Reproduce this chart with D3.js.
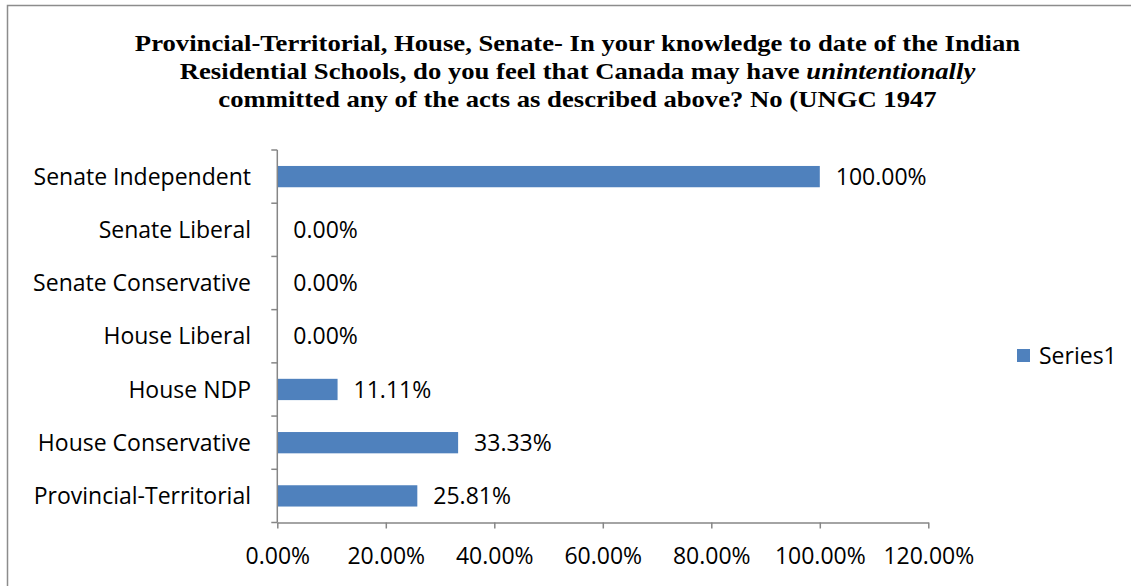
<!DOCTYPE html>
<html>
<head>
<meta charset="utf-8">
<script src="https://cdn.jsdelivr.net/npm/d3@7"></script>
<style>
  html, body { margin: 0; padding: 0; background: #fff; }
  svg { display: block; }
</style>
</head>
<body>
<script>
// chart data, top row first
const categories = [
  'Senate Independent',
  'Senate Liberal',
  'Senate Conservative',
  'House Liberal',
  'House NDP',
  'House Conservative',
  'Provincial-Territorial'
];
const values = [1.0, 0, 0, 0, 0.1111, 0.3333, 0.2581];
const xTicks = [0, 0.2, 0.4, 0.6, 0.8, 1.0, 1.2];
const seriesName = 'Series1';
const titleLines = [
  [{ t: 'Provincial-Territorial, House, Senate- In your knowledge to date of the Indian' }],
  [{ t: 'Residential Schools, do you feel that Canada may have ' }, { t: 'unintentionally', i: true }],
  [{ t: 'committed any of the acts as described above? No (UNGC 1947' }]
];

const width = 1131, height = 586;
const barColor = '#4F81BD';
const axisColor = '#868686';
const labelFont = '"Open Sans", Lato, sans-serif';
const labelSize = 23;

const svg = d3.select('body')
  .append('svg')
  .attr('width', width)
  .attr('height', height);

svg.append('rect')
  .attr('width', width)
  .attr('height', height)
  .attr('fill', '#fff');

// chart frame (only top and left edges show)
svg.append('path')
  .attr('d', `M7.5,${height} V5.5 H${width}`)
  .attr('fill', 'none')
  .attr('stroke', '#8c8c8c')
  .attr('stroke-width', 1.5);

// Title - the source glyphs are a little wider than Times, stretch them
const title = svg.append('text')
  .attr('transform', 'translate(577.5,0) scale(1.16,1)')
  .attr('text-anchor', 'middle')
  .attr('font-family', '"Liberation Serif", "Times New Roman", serif')
  .attr('font-weight', 'bold')
  .attr('font-size', 23)
  .attr('fill', '#000');

titleLines.forEach((line, i) => {
  const row = title.append('tspan')
    .attr('x', 0)
    .attr('y', 51 + i * 28);
  line.forEach(part => {
    row.append('tspan')
      .attr('font-style', part.i ? 'italic' : null)
      .text(part.t);
  });
});

// Scales
const x = d3.scaleLinear()
  .domain([0, 1.2])
  .range([277.3, 928.3]);

const y = d3.scaleBand()
  .domain(categories)
  .range([150, 522.5])
  .paddingInner(0.6)
  .paddingOuter(0.3);

const g = svg.append('g');

// Bars
g.selectAll('rect.bar')
  .data(categories)
  .join('rect')
  .attr('class', 'bar')
  .attr('x', x(0))
  .attr('y', d => y(d))
  .attr('width', (d, i) => x(values[i]) - x(0))
  .attr('height', y.bandwidth())
  .attr('fill', barColor);

// Value labels
g.selectAll('text.val')
  .data(categories)
  .join('text')
  .attr('class', 'val')
  .attr('x', (d, i) => x(values[i]) + 16)
  .attr('y', d => y(d) + y.bandwidth() / 2)
  .attr('dy', '0.35em')
  .attr('font-family', labelFont)
  .attr('font-size', labelSize)
  .attr('fill', '#000')
  .text((d, i) => d3.format('.2%')(values[i]));

// X axis
const xAxis = d3.axisBottom(x)
  .tickValues(xTicks)
  .tickFormat(d3.format('.2%'))
  .tickSize(6)
  .tickSizeOuter(0);

const gx = svg.append('g')
  .attr('transform', 'translate(0,522.5)')
  .call(xAxis);

gx.select('.domain').attr('stroke', axisColor).attr('stroke-width', 1.5);
gx.selectAll('.tick line').attr('stroke', axisColor).attr('stroke-width', 1.5);
gx.selectAll('.tick text')
  .attr('font-family', labelFont)
  .attr('font-size', labelSize)
  .attr('fill', '#000')
  .attr('dy', null)
  .attr('y', 41);

// Y axis: line plus ticks on category boundaries
const boundaries = d3.range(categories.length + 1)
  .map(i => 150 + i * (372.5 / categories.length));

const gy = svg.append('g');
gy.append('line')
  .attr('x1', x(0)).attr('x2', x(0))
  .attr('y1', 150).attr('y2', 522.5)
  .attr('stroke', axisColor)
  .attr('stroke-width', 1.5);
gy.selectAll('line.tk')
  .data(boundaries)
  .join('line')
  .attr('class', 'tk')
  .attr('x1', x(0) - 6).attr('x2', x(0))
  .attr('y1', d => d).attr('y2', d => d)
  .attr('stroke', axisColor)
  .attr('stroke-width', 1.5);

gy.selectAll('text.cat')
  .data(categories)
  .join('text')
  .attr('class', 'cat')
  .attr('x', 251)
  .attr('y', d => y(d) + y.bandwidth() / 2)
  .attr('dy', '0.35em')
  .attr('text-anchor', 'end')
  .attr('font-family', labelFont)
  .attr('font-size', labelSize)
  .attr('fill', '#000')
  .text(d => d);

// Legend
const legend = svg.append('g').attr('transform', 'translate(1017,349)');
legend.append('rect')
  .attr('width', 13)
  .attr('height', 13)
  .attr('fill', barColor);
legend.append('text')
  .attr('x', 22)
  .attr('y', 6.5)
  .attr('dy', '0.35em')
  .attr('font-family', labelFont)
  .attr('font-size', labelSize)
  .attr('fill', '#000')
  .text(seriesName);
</script>
</body>
</html>
